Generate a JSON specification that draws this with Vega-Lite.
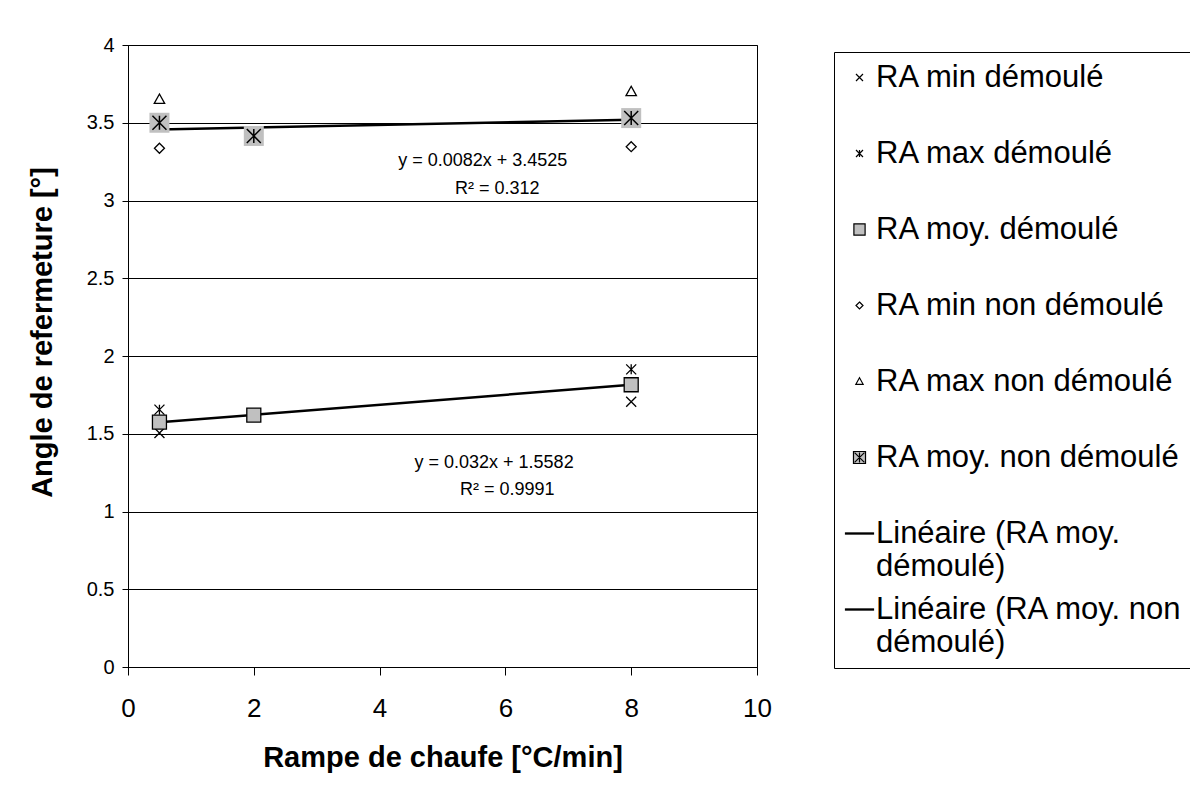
{
  "$schema": "https://vega.github.io/schema/vega-lite/v6.json",
  "width": 629,
  "height": 622,
  "autosize": {"type": "none"},
  "padding": {"left": 128, "top": 45, "right": 433, "bottom": 134},
  "background": "white",
  "datasets": {
    "pts": [
      {"series": "RA min démoulé", "kind": "s", "x": 0.5, "y": 1.505},
      {"series": "RA min démoulé", "kind": "s", "x": 8, "y": 1.706},
      {"series": "RA max démoulé", "kind": "s", "x": 0.5, "y": 1.655},
      {"series": "RA max démoulé", "kind": "s", "x": 8, "y": 1.914},
      {"series": "RA moy. démoulé", "kind": "m", "x": 0.5, "y": 1.575},
      {"series": "RA moy. démoulé", "kind": "m", "x": 2, "y": 1.62},
      {"series": "RA moy. démoulé", "kind": "m", "x": 8, "y": 1.815},
      {"series": "RA min non démoulé", "kind": "s", "x": 0.5, "y": 3.336},
      {"series": "RA min non démoulé", "kind": "s", "x": 8, "y": 3.346},
      {"series": "RA max non démoulé", "kind": "s", "x": 0.5, "y": 3.65},
      {"series": "RA max non démoulé", "kind": "s", "x": 8, "y": 3.7},
      {"series": "RA moy. non démoulé", "kind": "m", "x": 0.5, "y": 3.5},
      {"series": "RA moy. non démoulé", "kind": "m", "x": 2, "y": 3.415},
      {"series": "RA moy. non démoulé", "kind": "m", "x": 8, "y": 3.53}
    ],
    "eq": [
      {"label": "y = 0.0082x + 3.4525", "x": 5.64, "y": 3.254},
      {"label": "R² = 0.312", "x": 5.87, "y": 3.074},
      {"label": "y = 0.032x + 1.5582", "x": 5.82, "y": 1.312},
      {"label": "R² = 0.9991", "x": 6.03, "y": 1.138}
    ]
  },
  "layer": [
    {
      "data": {"name": "pts"},
      "transform": [
        {"filter": "datum.kind == 'm'"},
        {"regression": "y", "on": "x", "groupby": ["series"]}
      ],
      "mark": {"type": "line", "stroke": "#000", "strokeWidth": 2.5},
      "encoding": {
        "x": {
          "field": "x", "type": "quantitative",
          "scale": {"domain": [0, 10], "nice": false},
          "axis": {
            "values": [0, 2, 4, 6, 8, 10],
            "format": "~g",
            "grid": false,
            "domainColor": "#000",
            "tickColor": "#000",
            "tickSize": 8,
            "labelFont": "Liberation Sans",
            "labelFontSize": 26,
            "labelColor": "#000",
            "labelPadding": 20,
            "labelFlush": false,
            "title": "Rampe de chaufe [°C/min]",
            "titleFont": "Liberation Sans",
            "titleFontSize": 29,
            "titleFontWeight": "bold",
            "titleColor": "#000",
            "titleY": 90,
            "titleBaseline": "middle"
          }
        },
        "y": {
          "field": "y", "type": "quantitative",
          "scale": {"domain": [0, 4], "nice": false},
          "axis": {
            "values": [0, 0.5, 1, 1.5, 2, 2.5, 3, 3.5, 4],
            "format": "~g",
            "grid": true,
            "gridColor": "#000",
            "gridWidth": 1,
            "domainColor": "#000",
            "tickColor": "#000",
            "tickSize": 6,
            "labelFont": "Liberation Sans",
            "labelFontSize": 20,
            "labelColor": "#000",
            "labelPadding": 8,
            "labelFlush": false,
            "title": "Angle de refermeture [°]",
            "titleFont": "Liberation Sans",
            "titleFontSize": 29,
            "titleFontWeight": "bold",
            "titleColor": "#000",
            "titleX": -86,
            "titleY": 287,
            "titleBaseline": "middle",
            "titleAlign": "center",
            "titleAngle": -90
          }
        },
        "detail": {"field": "series"}
      }
    },
    {
      "data": {"name": "pts"},
      "transform": [{"filter": "datum.kind == 's'"}],
      "mark": {"type": "point", "opacity": 1, "strokeWidth": 1.3, "size": 1600},
      "encoding": {
        "x": {"field": "x", "type": "quantitative"},
        "y": {"field": "y", "type": "quantitative"},
        "shape": {
          "field": "series", "type": "nominal",
          "scale": {
            "domain": ["RA min démoulé", "RA max démoulé", "RA moy. démoulé", "RA min non démoulé", "RA max non démoulé", "RA moy. non démoulé", "Linéaire (RA moy. démoulé)", "Linéaire (RA moy. non démoulé)"],
            "range": [
              "M-0.25,-0.25L0.25,0.25M0.25,-0.25L-0.25,0.25",
              "M-0.25,-0.25L0.25,0.25M0.25,-0.25L-0.25,0.25M0,-0.25L0,0.25",
              "M-0.4,-0.4H0.4V0.4H-0.4Z",
              "M0,-0.25L0.25,0L0,0.25L-0.25,0Z",
              "M0,-0.27L0.26,0.2L-0.26,0.2Z",
              "M-0.43,-0.43H0.43V0.43H-0.43Z M-0.35,-0.35L0.35,0.35M0.35,-0.35L-0.35,0.35M0,-0.35L0,0.35",
              "M-1,-0.04H1V0.04H-1Z",
              "M-1,-0.04H1V0.04H-1Z"
            ]
          },
          "legend": {
            "orient": "none",
            "legendX": 706,
            "legendY": 7,
            "title": null,
            "labelFont": "Liberation Sans",
            "labelFontSize": 31,
            "labelLimit": 600,
            "labelOffset": 1,
            "padding": 10,
            "rowPadding": 11,
            "strokeColor": "#000",
            "fillColor": "white",
            "symbolSize": 784,
            "symbolStrokeWidth": 1.2,
            "symbolOpacity": 1,
            "labelExpr": "datum.label == 'Linéaire (RA moy. démoulé)' ? ['Linéaire (RA moy.', 'démoulé)'] : datum.label == 'Linéaire (RA moy. non démoulé)' ? ['Linéaire (RA moy. non', 'démoulé)'] : [datum.label, '']"
          }
        },
        "fill": {
          "field": "series", "type": "nominal",
          "scale": {
            "domain": ["RA min démoulé", "RA max démoulé", "RA moy. démoulé", "RA min non démoulé", "RA max non démoulé", "RA moy. non démoulé", "Linéaire (RA moy. démoulé)", "Linéaire (RA moy. non démoulé)"],
            "range": ["transparent", "transparent", "#c0c0c0", "white", "white", "#c0c0c0", "#000", "#000"]
          }
        },
        "stroke": {
          "field": "series", "type": "nominal",
          "scale": {
            "domain": ["RA min démoulé", "RA max démoulé", "RA moy. démoulé", "RA min non démoulé", "RA max non démoulé", "RA moy. non démoulé", "Linéaire (RA moy. démoulé)", "Linéaire (RA moy. non démoulé)"],
            "range": ["#000", "#000", "#000", "#000", "#000", "#000", "#000", "#000"]
          }
        }
      }
    },
    {
      "data": {"name": "pts"},
      "transform": [{"filter": "datum.kind == 'm'"}],
      "mark": {"type": "point", "opacity": 1, "strokeWidth": 1.3, "size": 1225},
      "encoding": {
        "x": {"field": "x", "type": "quantitative"},
        "y": {"field": "y", "type": "quantitative"},
        "shape": {"field": "series", "type": "nominal"},
        "fill": {"field": "series", "type": "nominal"},
        "stroke": {"field": "series", "type": "nominal"}
      }
    },
    {
      "data": {"name": "pts"},
      "transform": [{"filter": "datum.series == 'RA moy. non démoulé'"}],
      "mark": {"type": "point", "shape": "square", "filled": true, "fill": "#c0c0c0", "opacity": 1, "strokeWidth": 0, "size": 400},
      "encoding": {
        "x": {"field": "x", "type": "quantitative"},
        "y": {"field": "y", "type": "quantitative"}
      }
    },
    {
      "data": {"name": "pts"},
      "transform": [{"filter": "datum.series == 'RA moy. non démoulé'"}],
      "mark": {"type": "point", "shape": "M-1,-1L1,1M1,-1L-1,1M0,-1L0,1", "filled": false, "stroke": "#000", "opacity": 1, "strokeWidth": 1.5, "size": 196},
      "encoding": {
        "x": {"field": "x", "type": "quantitative"},
        "y": {"field": "y", "type": "quantitative"}
      }
    },
    {
      "data": {"name": "eq"},
      "mark": {"type": "text", "font": "Liberation Sans", "fontSize": 18, "align": "center", "baseline": "middle", "color": "#000"},
      "encoding": {
        "x": {"field": "x", "type": "quantitative"},
        "y": {"field": "y", "type": "quantitative"},
        "text": {"field": "label"}
      }
    }
  ],
  "config": {
    "font": "Liberation Sans",
    "view": {"stroke": "#000", "strokeWidth": 1}
  }
}
